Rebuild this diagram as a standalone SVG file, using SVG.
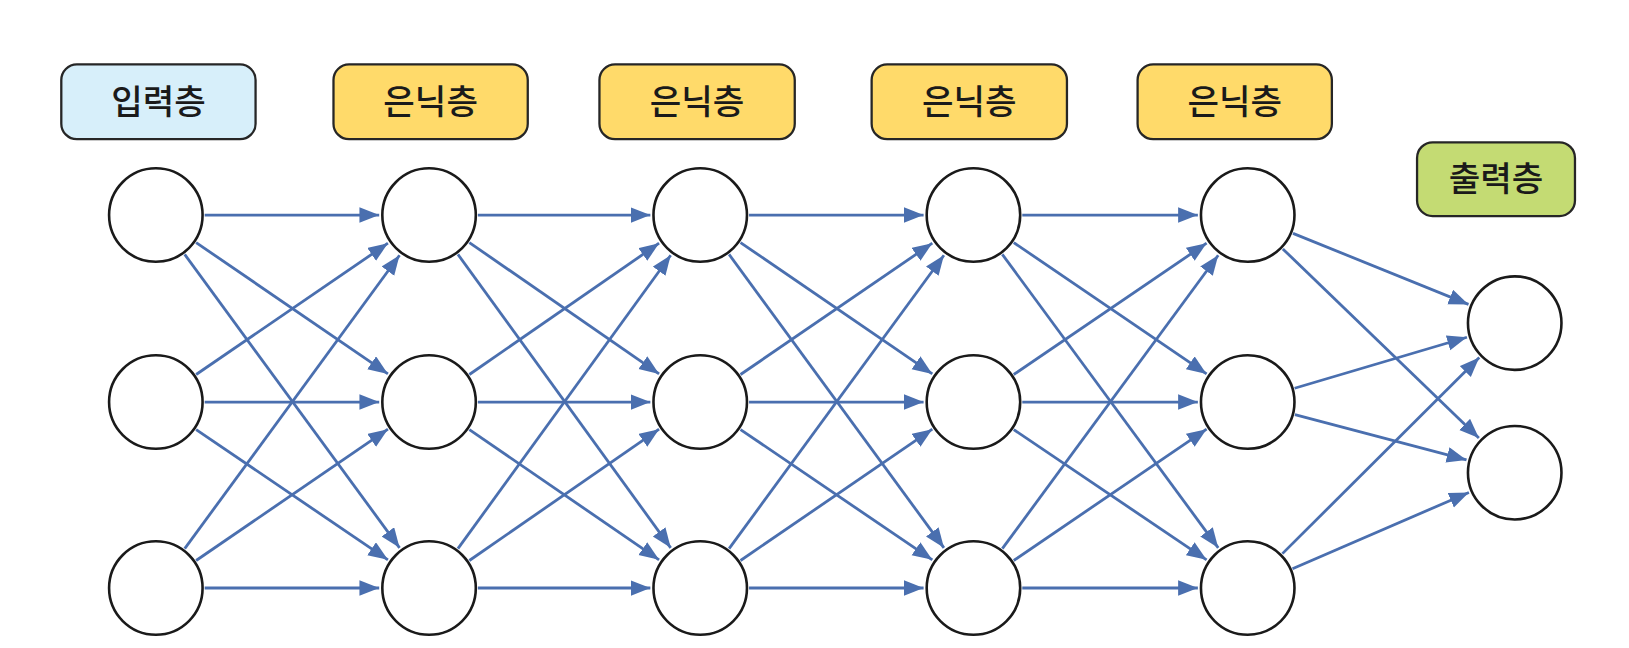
<svg xmlns="http://www.w3.org/2000/svg" width="1629" height="648" viewBox="0 0 1629 648">
<defs>
<marker id="arr" markerUnits="userSpaceOnUse" markerWidth="20" markerHeight="16" refX="19" refY="7.5" orient="auto">
<path d="M0,0 L19,7.5 L0,15 z" fill="#4A6FAF"/>
</marker>
<style>
.lbl{stroke:#262626;stroke-width:2.2}
.in{fill:#D7EFFA}
.hid{fill:#FFDA6A}
.out{fill:#C4DB73}
.t{font-family:"Noto Sans CJK KR","Noto Sans",sans-serif;font-size:33px;font-weight:500;fill:#1a1a1a;text-anchor:middle}
.n{fill:#ffffff;stroke:#1a1a1a;stroke-width:2.5}
.e line{stroke:#4A6FAF;stroke-width:2.7;marker-end:url(#arr)}
</style>
</defs>
<rect width="1629" height="648" fill="#ffffff"/>
<g transform="scale(1.0389)">
<g id="labels">
<g id="label-input"><rect class="lbl in" x="59" y="62" width="187" height="72" rx="15"/><text class="t" x="152.5" y="110">입력층</text></g>
<g id="label-hidden1"><rect class="lbl hid" x="321" y="62" width="187" height="72" rx="15"/><text class="t" x="414.5" y="110">은닉층</text></g>
<g id="label-hidden2"><rect class="lbl hid" x="577" y="62" width="188" height="72" rx="15"/><text class="t" x="671" y="110">은닉층</text></g>
<g id="label-hidden3"><rect class="lbl hid" x="839" y="62" width="188" height="72" rx="15"/><text class="t" x="933" y="110">은닉층</text></g>
<g id="label-hidden4"><rect class="lbl hid" x="1095" y="62" width="187" height="72" rx="15"/><text class="t" x="1188.5" y="110">은닉층</text></g>
<g id="label-output"><rect class="lbl out" x="1364" y="137" width="152" height="71" rx="15"/><text class="t" x="1440" y="184">출력층</text></g>
</g>
<g id="connectors" class="e">
<line x1="197" y1="207" x2="365" y2="207"/>
<line x1="188.8" y1="233.5" x2="373.4" y2="359.9"/>
<line x1="177.8" y1="244.9" x2="384.6" y2="527.3"/>
<line x1="188.8" y1="360.5" x2="373.4" y2="234.1"/>
<line x1="197" y1="387" x2="365" y2="387"/>
<line x1="188.8" y1="413.5" x2="373.4" y2="538.9"/>
<line x1="177.8" y1="528.1" x2="384.6" y2="245.7"/>
<line x1="188.8" y1="539.5" x2="373.4" y2="413.1"/>
<line x1="197" y1="566" x2="365" y2="566"/>

<line x1="460" y1="207" x2="626" y2="207"/>
<line x1="451.8" y1="233.5" x2="634.4" y2="359.9"/>
<line x1="440.8" y1="244.9" x2="645.6" y2="527.3"/>
<line x1="451.8" y1="360.5" x2="634.4" y2="234.1"/>
<line x1="460" y1="387" x2="626" y2="387"/>
<line x1="451.8" y1="413.5" x2="634.4" y2="538.9"/>
<line x1="440.8" y1="528.1" x2="645.6" y2="245.7"/>
<line x1="451.8" y1="539.5" x2="634.4" y2="413.1"/>
<line x1="460" y1="566" x2="626" y2="566"/>

<line x1="721" y1="207" x2="889" y2="207"/>
<line x1="712.8" y1="233.5" x2="897.4" y2="359.9"/>
<line x1="701.8" y1="244.9" x2="908.6" y2="527.3"/>
<line x1="712.8" y1="360.5" x2="897.4" y2="234.1"/>
<line x1="721" y1="387" x2="889" y2="387"/>
<line x1="712.8" y1="413.5" x2="897.4" y2="538.9"/>
<line x1="701.8" y1="528.1" x2="908.6" y2="245.7"/>
<line x1="712.8" y1="539.5" x2="897.4" y2="413.1"/>
<line x1="721" y1="566" x2="889" y2="566"/>

<line x1="984" y1="207" x2="1153" y2="207"/>
<line x1="975.8" y1="233.5" x2="1161.4" y2="359.9"/>
<line x1="964.8" y1="244.9" x2="1172.6" y2="527.3"/>
<line x1="975.8" y1="360.5" x2="1161.4" y2="234.1"/>
<line x1="984" y1="387" x2="1153" y2="387"/>
<line x1="975.8" y1="413.5" x2="1161.4" y2="538.9"/>
<line x1="964.8" y1="528.1" x2="1172.6" y2="245.7"/>
<line x1="975.8" y1="539.5" x2="1161.4" y2="413.1"/>
<line x1="984" y1="566" x2="1153" y2="566"/>

<line x1="1244.6" y1="224.6" x2="1413.5" y2="293"/>
<line x1="1234.8" y1="239.6" x2="1423.5" y2="421.7"/>
<line x1="1246.1" y1="373.7" x2="1412" y2="324.6"/>
<line x1="1246.4" y1="399" x2="1411.6" y2="442.7"/>
<line x1="1234.4" y1="532.9" x2="1423.9" y2="344.2"/>
<line x1="1244.1" y1="547.4" x2="1413.9" y2="474"/>
</g>
<g id="layer-input">
<g id="n-in-1"><circle class="n" cx="150" cy="207" r="45"/></g>
<g id="n-in-2"><circle class="n" cx="150" cy="387" r="45"/></g>
<g id="n-in-3"><circle class="n" cx="150" cy="566" r="45"/></g>
</g>
<g id="layer-hidden1">
<g id="n-h1-1"><circle class="n" cx="413" cy="207" r="45"/></g>
<g id="n-h1-2"><circle class="n" cx="413" cy="387" r="45"/></g>
<g id="n-h1-3"><circle class="n" cx="413" cy="566" r="45"/></g>
</g>
<g id="layer-hidden2">
<g id="n-h2-1"><circle class="n" cx="674" cy="207" r="45"/></g>
<g id="n-h2-2"><circle class="n" cx="674" cy="387" r="45"/></g>
<g id="n-h2-3"><circle class="n" cx="674" cy="566" r="45"/></g>
</g>
<g id="layer-hidden3">
<g id="n-h3-1"><circle class="n" cx="937" cy="207" r="45"/></g>
<g id="n-h3-2"><circle class="n" cx="937" cy="387" r="45"/></g>
<g id="n-h3-3"><circle class="n" cx="937" cy="566" r="45"/></g>
</g>
<g id="layer-hidden4">
<g id="n-h4-1"><circle class="n" cx="1201" cy="207" r="45"/></g>
<g id="n-h4-2"><circle class="n" cx="1201" cy="387" r="45"/></g>
<g id="n-h4-3"><circle class="n" cx="1201" cy="566" r="45"/></g>
</g>
<g id="layer-output">
<g id="n-out-1"><circle class="n" cx="1458" cy="311" r="45"/></g>
<g id="n-out-2"><circle class="n" cx="1458" cy="455" r="45"/></g>
</g>
</g>
</svg>
